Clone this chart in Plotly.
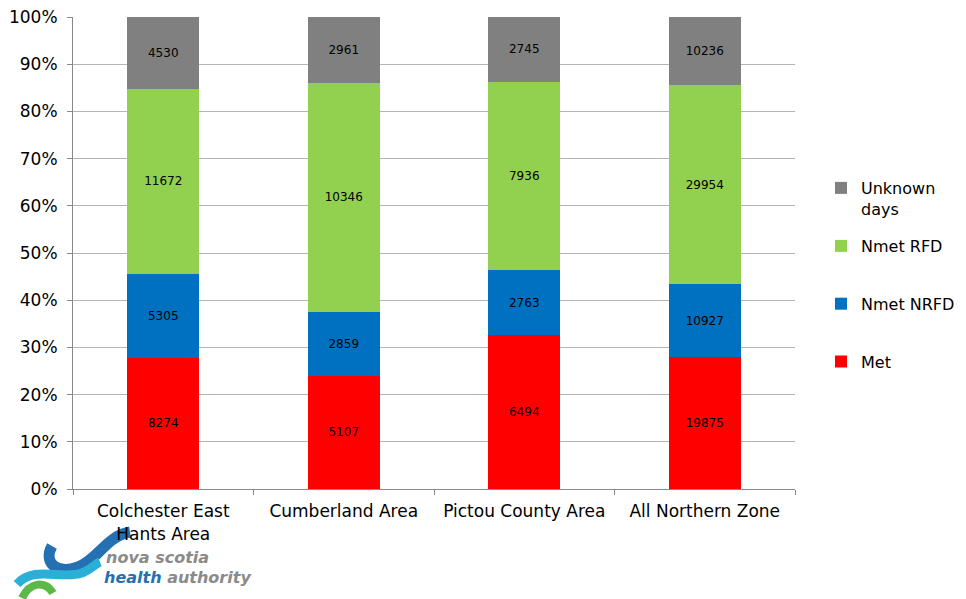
import plotly.graph_objects as go

categories = ["Colchester East<br>Hants Area", "Cumberland Area", "Pictou County Area", "All Northern Zone"]
met = [8274, 5107, 6494, 19875]
nmet_nrfd = [5305, 2859, 2763, 10927]
nmet_rfd = [11672, 10346, 7936, 29954]
unknown = [4530, 2961, 2745, 10236]

series = [
    ("Met", met, "#ff0000", "legend2"),
    ("Nmet NRFD", nmet_nrfd, "#0070c0", "legend2"),
    ("Nmet RFD", nmet_rfd, "#92d050", "legend2"),
    ("Unknown<br>days", unknown, "#808080", "legend"),
]

FONT = "DejaVu Sans"
fig = go.Figure()
for i, (name, vals, col, leg) in enumerate(series):
    fig.add_trace(go.Bar(
        x=categories, y=vals, name=name, marker=dict(color=col, line=dict(width=0)),
        text=[str(v) for v in vals], textposition="inside", insidetextanchor="middle",
        textfont=dict(color="black", size=12, family=FONT), legendgroup=f"g{i}",
        legendrank=1000 - i, legend=leg,
    ))

L, R, T, B = 73, 0, 17, 110
W, H = 966, 599
PR = 795  # plot right edge in px
pw, ph = W - L - R, H - T - B

def px(x):
    return (x - L) / pw

def py(y):
    return (H - B - y) / ph

shapes = []
def curve(pts, color, width):
    d = "M %f,%f" % (px(pts[0][0]), py(pts[0][1]))
    for k in range(1, len(pts), 3):
        (a, b), (c, e), (f, g) = pts[k], pts[k + 1], pts[k + 2]
        d += " C %f,%f %f,%f %f,%f" % (px(a), py(b), px(c), py(e), px(f), py(g))
    shapes.append(dict(type="path", xref="paper", yref="paper", path=d,
                       line=dict(color=color, width=width), layer="below"))

curve([(52, 546), (43, 562), (56, 575), (78, 567), (98, 560), (106, 536), (130, 532)], "#2470b3", 11)
curve([(17, 584), (35, 565), (60, 580), (82, 573), (92, 569), (95, 564), (100, 562)], "#2ab0d6", 9)
curve([(22, 598), (30, 582), (45, 580), (53, 593)], "#5cb847", 8)

legfont = dict(size=16, family=FONT, color="black")
fig.update_layout(
    barmode="stack", barnorm="percent", bargap=0.6,
    width=W, height=H, margin=dict(l=L, r=R, t=T, b=B, autoexpand=False),
    paper_bgcolor="white", plot_bgcolor="white",
    font=dict(family=FONT, size=17, color="black"),
    showlegend=True,
    legend=dict(x=px(821), xanchor="left", y=py(171), yanchor="top", valign="top",
                font=legfont, itemwidth=30, bgcolor="rgba(0,0,0,0)"),
    legend2=dict(traceorder="grouped", x=px(821), xanchor="left", y=py(229), yanchor="top",
                 font=legfont, tracegroupgap=34, itemwidth=30, bgcolor="rgba(0,0,0,0)"),
    xaxis=dict(domain=[0, px(PR)], showline=True, linecolor="#888888", linewidth=1, ticks="outside",
               tickson="boundaries", ticklen=5, tickcolor="#888888", automargin=False,
               ticklabelstandoff=7,
               tickfont=dict(size=17, family=FONT), showgrid=False),
    yaxis=dict(range=[0, 100], dtick=10, ticksuffix="%", showline=True, linecolor="#888888",
               ticks="outside", ticklen=5, tickcolor="#888888", gridcolor="#b4b4b4", automargin=False,
               ticklabelstandoff=6,
               tickfont=dict(size=17, family=FONT), zeroline=False),
    shapes=shapes,
    annotations=[
        dict(xref="paper", yref="paper", x=px(104), y=py(557), xanchor="left", yanchor="middle",
             showarrow=False, text="<b><i>nova scotia</i></b>",
             font=dict(size=16, color="#8a8a8a", family="DejaVu Sans")),
        dict(xref="paper", yref="paper", x=px(102), y=py(577), xanchor="left", yanchor="middle",
             showarrow=False,
             text="<b><i><span style='color:#2470b3'>health</span> authority</i></b>",
             font=dict(size=16, color="#8a8a8a", family="DejaVu Sans")),
    ],
)
fig.write_html("out.html")
